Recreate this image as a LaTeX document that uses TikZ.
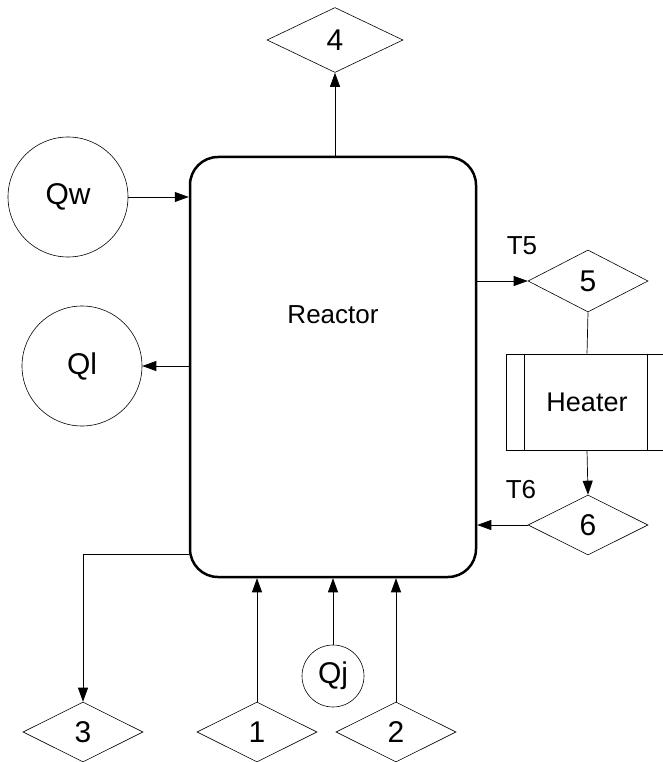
\documentclass[tikz,border=0pt]{standalone}
\usepackage{fontspec}
\setmainfont{Liberation Sans}
\usetikzlibrary{arrows.meta,shapes.geometric}

\begin{document}
\begin{tikzpicture}[
  x=1pt, y=-1pt,
  >={Triangle[length=14pt,width=10pt]},
  flow/.style={line width=0.7pt},
  txt/.style={font=\fontsize{26}{31}\selectfont},
  stream/.style={draw, diamond, inner sep=0pt, line width=0.6pt, minimum width=120pt, minimum height=60pt, font=\fontsize{30}{35}\selectfont},
  duty/.style={draw, circle, inner sep=0pt, line width=0.6pt, font=\fontsize{30}{35}\selectfont},
]
\useasboundingbox (0,0) rectangle (663,762);
\node[draw, rounded corners=28pt, line width=2.5pt, minimum width=286pt, minimum height=420pt,
  label={[txt,yshift=52pt]center:Reactor}] (reactor) at (333,367) {};
% heat duties
\node[duty, minimum size=120pt] (qw) at (68,197) {Qw};
\node[duty, minimum size=120pt] (ql) at (82,366) {Ql};
\node[duty, minimum size=62pt]  (qj) at (333,676) {Qj};
% streams
\node[stream, minimum width=136pt, minimum height=65pt] (s4) at (335,40) {4};
\node[stream, minimum height=62pt] (s5) at (588,281) {5};
\node[stream] (s6) at (588,525) {6};
\node[stream] (s3) at (83,732) {3};
\node[stream] (s1) at (257,732) {1};
\node[stream] (s2) at (396,732) {2};
\node[txt] (t5) at (522,246) {T5};
\node[txt] (t6) at (521,490) {T6};
% heater with side bars
\node[draw, line width=0.6pt, minimum width=162pt, minimum height=96pt, font=\fontsize{27}{32}\selectfont] (heater) at (587,402) {Heater};
\draw[line width=0.6pt] ([xshift=19pt]heater.north west) -- ([xshift=19pt]heater.south west);
\draw[line width=0.6pt] ([xshift=-21pt]heater.north east) -- ([xshift=-21pt]heater.south east);
% connections
\draw[flow,->] (reactor.north -| s4) -- (s4.south);
\draw[flow,->] (qw.east) -- (qw.east -| reactor.west);
\draw[flow,->] (ql.east -| reactor.west) -- (ql.east);
\draw[flow,->] (s5.west -| reactor.east) -- (s5.west);
\draw[flow] (s5.south) -- (heater.north);
\draw[flow,->] (heater.south) -- (s6.north);
\draw[flow,->] (s6.west) -- (s6.west -| reactor.east);
\draw[flow,->] ([yshift=24pt]reactor.south west) -| (s3.north);
\foreach \s in {s1,qj,s2} \draw[flow,->] (\s.north) -- (\s.north |- reactor.south);
\end{tikzpicture}
\end{document}
